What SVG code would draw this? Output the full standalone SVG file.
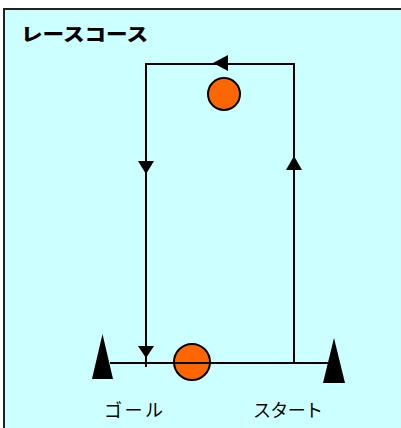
<svg xmlns="http://www.w3.org/2000/svg" width="401" height="428" viewBox="0 0 401 428">
<defs>
<style>
.ln{stroke:#000;stroke-width:2;fill:none}
.ball{fill:#FF6600;stroke:#000;stroke-width:2}
.cone{fill:#000}
.arr{fill:#000}
.lbl{font-family:"Liberation Sans","Noto Sans CJK JP",sans-serif;font-size:18px;fill:#000}
</style>
</defs>
<rect x="4" y="9" width="410" height="430" fill="#CCFFFF" stroke="#222" stroke-width="2"/>
<text x="21" y="41" class="lbl" font-weight="900" font-size="23" textLength="127" lengthAdjust="spacingAndGlyphs">レースコース</text>
<g id="ball-top"><circle class="ball" cx="224" cy="94" r="16"/></g>
<g id="ball-bottom"><circle class="ball" cx="192" cy="362" r="18"/></g>
<g id="connectors">
<polyline class="ln" points="294,363 294,64 146,64 146,367"/>
<line class="ln" x1="110" y1="363" x2="328" y2="363"/>
<polygon class="arr" points="213,63 228,55 228,71"/>
<polygon class="arr" points="138,161 154,161 146,174"/>
<polygon class="arr" points="286,170 302,170 294,156"/>
<polygon class="arr" points="138,346 154,346 146,358"/>
</g>
<g id="cone-goal"><polygon class="cone" points="102.5,334 113,379 92,379"/></g>
<g id="cone-start"><polygon class="cone" points="334,338 345,383 323,383"/></g>
<g id="label-goal"><text x="104" y="417" class="lbl" textLength="59">ゴール</text></g>
<g id="label-start"><text x="253" y="417" class="lbl" textLength="70">スタート</text></g>
</svg>
